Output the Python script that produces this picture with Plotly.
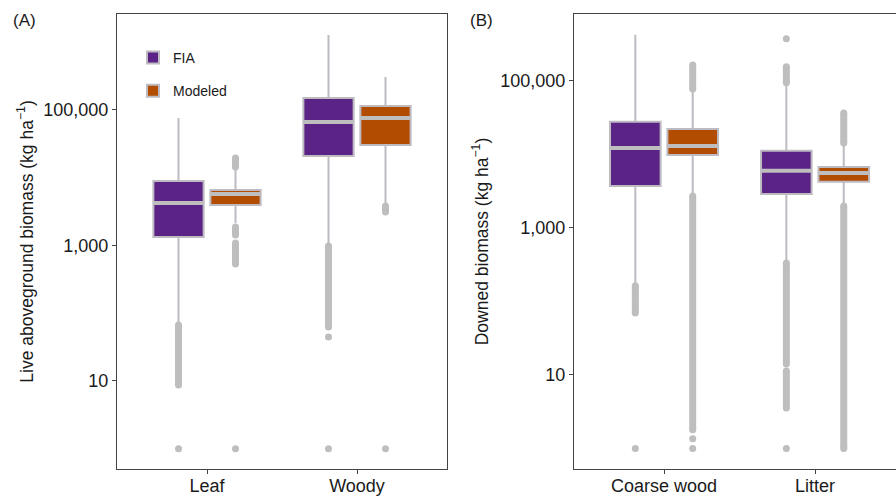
import plotly.graph_objects as go

# ---------------- data ----------------
series = ["FIA", "Modeled"]

# Panel A: live aboveground biomass
cats_A = ["Leaf", "Woody"]
A_q1 = {"FIA": [1334, 20900], "Modeled": [3960, 30400]}
A_med = {"FIA": [4240, 66600], "Modeled": [5750, 76300]}
A_q3 = {"FIA": [8950, 150000], "Modeled": [6590, 114600]}
A_lo = {"FIA": [70, 1000], "Modeled": [2150, 4240]}
A_hi = {"FIA": [76300, 1280000], "Modeled": [13000, 307000]}
# dense outlier runs (from, to) and isolated outliers
A_runs = {
    "FIA": [[(67, 8.7)], [(985, 62.7)]],
    "Modeled": [[(19550, 14420), (1875, 1430), (1090, 533)], [(3830, 3120)]],
}
A_pts = {"FIA": [[1], [44.6, 1]], "Modeled": [[1], [1]]}

# Panel B: downed biomass
cats_B = ["Coarse wood", "Litter"]
B_q1 = {"FIA": [3720, 2900], "Modeled": [9840, 4230]}
B_med = {"FIA": [12250, 5970], "Modeled": [13050, 5600]}
B_q3 = {"FIA": [27700, 11200], "Modeled": [22200, 6760]}
B_lo = {"FIA": [170, 350], "Modeled": [2990, 2190]}
B_hi = {"FIA": [423000, 88000], "Modeled": [70800, 13400]}
B_runs = {
    "FIA": [[(163, 69.8)], [(156000, 94000), (334, 14.1), (11.3, 3.56)]],
    "Modeled": [[(165000, 77800), (2720, 1.79)], [(36700, 14300), (1990, 1)]],
}
B_pts = {"FIA": [[1], [373000, 1]], "Modeled": [[1.35, 1], []]}

tick_vals = [10, 1000, 100000]
tick_text = ["10", "1,000", "100,000"]

# ---------------- styles ----------------
fill = {"FIA": "#5A2385", "Modeled": "#B24C00"}
edge = "#BEBAC2"
grey = "#BEBEBE"
offset = {"FIA": -0.19, "Modeled": 0.19}
box_w = 0.335
font_family = "Liberation Sans, Arial, sans-serif"
W, H = 896, 496

fig = go.Figure()


def add_panel(cats, q1, med, q3, lo, hi, runs, pts, xa, ya, legend):
    idx = list(range(len(cats)))
    for s in series:
        pos = [i + offset[s] for i in idx]
        fig.add_trace(go.Box(
            x=pos, q1=q1[s], median=med[s], q3=q3[s],
            lowerfence=lo[s], upperfence=hi[s],
            width=box_w, whiskerwidth=0, boxpoints=False,
            fillcolor=fill[s], line=dict(color=edge, width=2),
            name=s, legendgroup=s, showlegend=legend,
            xaxis=xa, yaxis=ya, hoverinfo="skip",
        ))
    for s in series:
        pos = [i + offset[s] for i in idx]
        # thicker median bars
        mx, my = [], []
        for p, m in zip(pos, med[s]):
            mx += [p - box_w / 2, p + box_w / 2, None]
            my += [m, m, None]
        fig.add_trace(go.Scatter(x=mx, y=my, mode="lines",
                                 line=dict(color=grey, width=4),
                                 showlegend=False, xaxis=xa, yaxis=ya,
                                 hoverinfo="skip"))
        # outlier runs
        rx, ry = [], []
        for p, rl in zip(pos, runs[s]):
            for a, b in rl:
                rx += [p, p, None]
                ry += [a, b, None]
        fig.add_trace(go.Scatter(x=rx, y=ry, mode="lines+markers",
                                 line=dict(color=grey, width=7),
                                 marker=dict(color=grey, size=7),
                                 showlegend=False, xaxis=xa, yaxis=ya,
                                 hoverinfo="skip"))
        px_, py_ = [], []
        for p, pl in zip(pos, pts[s]):
            for v in pl:
                px_.append(p)
                py_.append(v)
        fig.add_trace(go.Scatter(x=px_, y=py_, mode="markers",
                                 marker=dict(color=grey, size=7),
                                 showlegend=False, xaxis=xa, yaxis=ya,
                                 hoverinfo="skip"))


add_panel(cats_A, A_q1, A_med, A_q3, A_lo, A_hi, A_runs, A_pts, "x", "y", True)
add_panel(cats_B, B_q1, B_med, B_q3, B_lo, B_hi, B_runs, B_pts, "x2", "y2", False)

axis_common = dict(showgrid=False, zeroline=False, showline=True, automargin=False,
                   linecolor="#444444", linewidth=1.3, ticks="outside",
                   ticklen=4, tickcolor="#444444", tickwidth=1,
                   tickfont=dict(size=18, color="#1a1a1a", family=font_family))
x_extra = dict(ticklabelstandoff=-4)

fig.update_layout(
    width=W, height=H,
    margin=dict(l=0, r=0, t=14, b=27),
    paper_bgcolor="white", plot_bgcolor="white",
    font=dict(family=font_family, color="#1a1a1a"),
    xaxis=dict(domain=[117 / W, 447 / W], range=[-0.6, 1.6],
               tickvals=list(range(len(cats_A))), ticktext=cats_A,
               mirror=True, anchor="y", **axis_common, **x_extra),
    yaxis=dict(type="log", range=[-0.30, 6.417], tickvals=tick_vals,
               ticktext=tick_text, mirror=True, anchor="x",
               title=dict(text="Live aboveground biomass (kg ha<sup>−1</sup>)",
                          font=dict(size=17.5), standoff=5),
               **axis_common),
    xaxis2=dict(domain=[574 / W, 1.0], range=[-0.596, 1.536],
                tickvals=list(range(len(cats_B))), ticktext=cats_B,
                mirror=True, anchor="y2", **axis_common, **x_extra),
    yaxis2=dict(type="log", range=[-0.28, 5.91], tickvals=tick_vals,
                ticktext=tick_text, mirror=False, anchor="x2",
                title=dict(text="Downed biomass (kg ha<sup>−1</sup>)",
                           font=dict(size=17.5), standoff=7),
                **axis_common),
    legend=dict(x=133 / W, y=(469 - 42) / 455, xanchor="left", yanchor="top",
                bgcolor="rgba(0,0,0,0)", font=dict(size=14),
                tracegroupgap=12, traceorder="grouped"),
    showlegend=True,
    annotations=[
        dict(text="(A)", x=11, y=21, xref="paper", yref="paper",
             showarrow=False, font=dict(size=17), xanchor="left", yanchor="middle"),
        dict(text="(B)", x=468, y=21, xref="paper", yref="paper",
             showarrow=False, font=dict(size=17), xanchor="left", yanchor="middle"),
    ],
)

# convert pixel-based annotation anchors to paper fractions
for ann in fig.layout.annotations:
    ann.x = ann.x / W
    ann.y = (469 - ann.y) / 455

fig.write_html("out.html", config={"displayModeBar": False},
               post_script="document.body.style.margin='0px';document.body.style.overflow='hidden';")
